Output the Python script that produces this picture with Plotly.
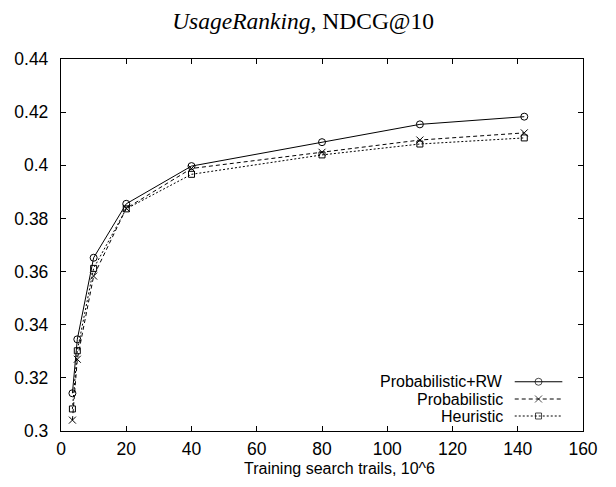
import plotly.graph_objects as go

# ---- data ----
trails = [3.5, 5, 10, 20, 40, 80, 110, 142]
prob_rw = [0.3142, 0.3345, 0.3652, 0.3855, 0.3997, 0.4087, 0.4154, 0.4183]
prob = [0.3041, 0.3270, 0.3583, 0.3838, 0.3988, 0.4049, 0.4095, 0.4122]
heur = [0.3083, 0.3302, 0.3612, 0.3836, 0.3966, 0.4039, 0.4080, 0.4103]
series_names = ["Probabilistic+RW", "Probabilistic", "Heuristic"]
y_ticks = [0.30, 0.32, 0.34, 0.36, 0.38, 0.40, 0.42, 0.44]
y_ticklabels = ["0.3", "0.32", "0.34", "0.36", "0.38", "0.4", "0.42", "0.44"]
x_ticks = [0, 20, 40, 60, 80, 100, 120, 140, 160]

SANS = "Liberation Sans, Arial, Helvetica"
styles = [
    dict(dash="solid", symbol="circle-open", size=7),
    dict(dash="4px,3px", symbol="x-thin-open", size=7),
    dict(dash="2px,2px", symbol="square-open", size=6),
]

fig = go.Figure()
for name, ys, st in zip(series_names, [prob_rw, prob, heur], styles):
    fig.add_trace(go.Scatter(
        x=trails, y=ys, mode="lines+markers", name=name, showlegend=False,
        line=dict(color="black", width=1, dash=st["dash"]),
        marker=dict(symbol=st["symbol"], size=st["size"], color="black",
                    line=dict(color="black", width=1)),
    ))

# gnuplot-style legend: text right-aligned, sample to the right
leg_rows = [0.1324, 0.0860, 0.0403]
for name, ly, st in zip(series_names, leg_rows, styles):
    fig.add_trace(go.Scatter(
        x=[0.8692, 0.9148, 0.9604], y=[ly, ly, ly], mode="lines+markers",
        xaxis="x2", yaxis="y2", showlegend=False, hoverinfo="skip",
        line=dict(color="black", width=1, dash=st["dash"]),
        marker=dict(symbol=st["symbol"], size=[0, st["size"], 0], color="black",
                    line=dict(color="black", width=1)),
    ))
    fig.add_annotation(x=0.8487, y=ly, xref="x2", yref="y2", text=name,
                       showarrow=False, xanchor="right", yanchor="middle",
                       borderpad=0,
                       font=dict(family=SANS, size=16, color="black"))

# x-axis title placed like gnuplot's xlabel
fig.add_annotation(x=0.534, y=-0.1002, xref="paper", yref="paper",
                   text="Training search trails, 10^6", showarrow=False,
                   xanchor="center", yanchor="middle", borderpad=0,
                   font=dict(family=SANS, size=16, color="black"))

axis_common = dict(showgrid=False, zeroline=False, showline=True, linecolor="black",
                   linewidth=1.3, mirror="ticks", ticks="inside", ticklen=5,
                   tickcolor="black", tickwidth=1,
                   tickfont=dict(family=SANS, size=17.5, color="black"))

fig.update_layout(
    width=616, height=487,
    margin=dict(l=61, r=33, t=59, b=56),
    paper_bgcolor="white", plot_bgcolor="white",
    title=dict(text="<i>UsageRanking</i>, NDCG@10", x=0.492, xanchor="center",
               y=0.957, yanchor="middle",
               font=dict(family="Liberation Serif, Times New Roman", size=23.5, color="black")),
    xaxis=dict(range=[0, 160], tickvals=x_ticks, ticklabelstandoff=2, **axis_common),
    yaxis=dict(range=[0.3, 0.44], tickvals=y_ticks, ticktext=y_ticklabels,
               ticklabelstandoff=8, **axis_common),
    xaxis2=dict(range=[0, 1], overlaying="x", visible=False, fixedrange=True),
    yaxis2=dict(range=[0, 1], overlaying="y", visible=False, fixedrange=True),
    showlegend=False,
)

fig.write_html("out.html", config={"displayModeBar": False},
               post_script="document.body.style.margin='0px';document.body.style.padding='0px';")
